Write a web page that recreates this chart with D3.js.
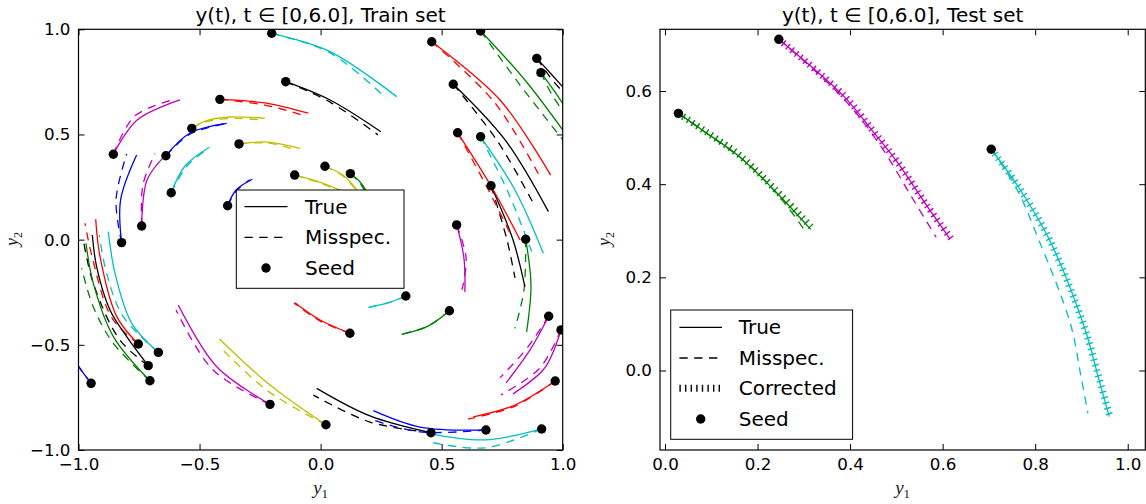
<!DOCTYPE html>
<html><head><meta charset="utf-8">
<script src="https://cdn.jsdelivr.net/npm/d3@7"></script>
<style>body{margin:0;background:#fff} svg{display:block}</style>
</head><body>
<svg id="c" width="1146" height="504"></svg>
<script>
const colorMap = {b:"#0000ff", g:"#008000", r:"#ff0000", c:"#00bfbf", m:"#bf00bf", y:"#bfbf00", k:"#000000"};

// ---------- Train set ----------
const trainColors = ["c","k","r","y","y","m","b","c","b","m","b","r","c","k","g","b","m","y","r","c","g","k","b","c","r","m","m","g","k","m","r","c","k","r","g","k","g","y","y","g"];
const trainSeeds = [[-0.202,0.981],[-0.144,0.751],[-0.416,0.667],[-0.532,0.529],[-0.337,0.455],[-0.856,0.406],[-0.639,0.399],[-0.617,0.223],[-0.384,0.161],[-0.739,0.065],[-0.822,-0.014],[-0.753,-0.496],[-0.670,-0.536],[-0.712,-0.599],[-0.705,-0.671],[-0.948,-0.683],[-0.209,-0.783],[0.022,-0.880],[0.121,-0.445],[0.352,-0.268],[0.532,-0.338],[0.456,-0.918],[0.683,-0.905],[0.913,-0.900],[0.969,-0.672],[0.942,-0.364],[0.993,-0.429],[0.847,0.002],[0.704,0.256],[0.562,0.070],[0.566,0.508],[0.661,0.489],[0.548,0.739],[0.459,0.941],[0.661,0.992],[0.893,0.862],[0.910,0.794],[-0.107,0.307],[0.018,0.349],[0.123,0.314]];
const trainTrue = [
 [[0.039,0.894],[0.314,0.680]],
 [[0.039,0.664],[0.249,0.513]],
 [[-0.230,0.650],[-0.051,0.601]],
 [[-0.477,0.564],[-0.374,0.583],[-0.230,0.577]],
 [[-0.217,0.464],[-0.085,0.434]],
 [[-0.758,0.569],[-0.581,0.664]],
 [[-0.539,0.507],[-0.388,0.553]],
 [[-0.560,0.350],[-0.460,0.439]],
 [[-0.349,0.236],[-0.282,0.287]],
 [[-0.717,0.284],[-0.640,0.402]],
 [[-0.826,0.189],[-0.760,0.402]],
 [[-0.842,-0.366],[-0.911,-0.081],[-0.929,0.097]],
 [[-0.780,-0.398],[-0.849,-0.160],[-0.877,0.038]],
 [[-0.801,-0.461],[-0.870,-0.334],[-0.925,-0.129],[-0.943,0.022]],
 [[-0.856,-0.461],[-0.939,-0.207],[-0.969,-0.017]],
 [[-0.977,-0.639],[-1.010,-0.586]],
 [[-0.429,-0.604],[-0.588,-0.311]],
 [[-0.209,-0.691],[-0.418,-0.472]],
 [[-0.002,-0.382],[-0.106,-0.300]],
 [[0.278,-0.301],[0.197,-0.322]],
 [[0.444,-0.411],[0.335,-0.450]],
 [[0.204,-0.838],[-0.016,-0.707]],
 [[0.411,-0.891],[0.218,-0.813]],
 [[0.679,-0.952],[0.445,-0.921]],
 [[0.803,-0.786],[0.631,-0.842]],
 [[0.865,-0.524],[0.766,-0.681]],
 [[0.926,-0.610],[0.795,-0.733]],
 [[0.869,-0.216],[0.851,-0.438]],
 [[0.795,-0.002],[0.844,-0.225]],
 [[0.592,-0.087],[0.596,-0.249]],
 [[0.704,0.255],[0.824,-0.002]],
 [[0.803,0.236],[0.920,-0.065]],
 [[0.762,0.474],[0.941,0.133]],
 [[0.741,0.664],[0.950,0.307]],
 [[0.844,0.759],[1.030,0.474]],
 [[0.956,0.783],[1.030,0.688]],
 [[0.968,0.702],[1.030,0.593]],
 [[-0.003,0.274],[0.101,0.226]],
 [[0.092,0.307],[0.150,0.236]],
 [[0.163,0.274],[0.196,0.217]]
];
const trainMisspec = [
 [[0.039,0.888],[0.270,0.673]],
 [[0.039,0.654],[0.237,0.498]],
 [[-0.230,0.640],[-0.064,0.588]],
 [[-0.477,0.559],[-0.374,0.576],[-0.242,0.569]],
 [[-0.217,0.459],[-0.098,0.426]],
 [[-0.767,0.588],[-0.597,0.669]],
 [[-0.539,0.502],[-0.399,0.550]],
 [[-0.552,0.350],[-0.461,0.436]],
 [[-0.349,0.231],[-0.292,0.284]],
 [[-0.734,0.260],[-0.684,0.410]],
 [[-0.845,0.189],[-0.801,0.407]],
 [[-0.862,-0.372],[-0.944,-0.081],[-0.973,0.078]],
 [[-0.815,-0.366],[-0.884,-0.160],[-0.914,0.022]],
 [[-0.829,-0.477],[-0.939,-0.207],[-0.980,-0.002]],
 [[-0.856,-0.493],[-0.939,-0.319],[-0.987,-0.136]],
 [[-0.977,-0.639],[-1.010,-0.586]],
 [[-0.444,-0.620],[-0.597,-0.334]],
 [[-0.217,-0.720],[-0.420,-0.506]],
 [[-0.002,-0.387],[-0.110,-0.301]],
 [[0.278,-0.301],[0.197,-0.322]],
 [[0.444,-0.411],[0.335,-0.450]],
 [[0.204,-0.867],[-0.030,-0.739]],
 [[0.411,-0.914],[0.216,-0.857]],
 [[0.679,-0.990],[0.445,-0.961]],
 [[0.803,-0.791],[0.609,-0.853]],
 [[0.853,-0.515],[0.741,-0.657]],
 [[0.906,-0.610],[0.745,-0.738]],
 [[0.840,-0.239],[0.803,-0.422]],
 [[0.770,-0.002],[0.803,-0.182]],
 [[0.601,-0.087],[0.584,-0.239]],
 [[0.687,0.250],[0.782,0.032]],
 [[0.774,0.227],[0.872,-0.057]],
 [[0.733,0.464],[0.886,0.157]],
 [[0.720,0.650],[0.906,0.299]],
 [[0.824,0.735],[1.001,0.474]],
 [[0.948,0.773],[1.022,0.673]],
 [[0.956,0.688],[1.022,0.578]],
 [[-0.003,0.270],[0.095,0.224]],
 [[0.092,0.303],[0.146,0.236]],
 [[0.160,0.272],[0.190,0.217]]
];
const trainXTicks = [-1.0,-0.5,0.0,0.5,1.0];
const trainYTicks = [-1.0,-0.5,0.0,0.5,1.0];

// ---------- Test set ----------
const testColors = ["g","m","c"];
const testSeeds = [[0.029,0.552],[0.246,0.711],[0.705,0.475]];
const testTrue = [
 [[0.085,0.513],[0.161,0.459],[0.236,0.387],[0.315,0.303]],
 [[0.387,0.588],[0.447,0.516],[0.500,0.450],[0.567,0.352],[0.616,0.282]],
 [[0.763,0.395],[0.831,0.280],[0.906,0.094],[0.936,-0.013],[0.960,-0.099]]
];
const testMisspec = [
 [[0.100,0.502],[0.180,0.443],[0.250,0.370],[0.306,0.295]],
 [[0.380,0.590],[0.462,0.488],[0.537,0.366],[0.586,0.286]],
 [[0.760,0.390],[0.808,0.280],[0.876,0.101],[0.899,-0.013],[0.914,-0.092]]
];
const testCorrected = [
 [[0.085,0.515],[0.161,0.462],[0.236,0.391],[0.318,0.306]],
 [[0.387,0.590],[0.447,0.518],[0.500,0.451],[0.567,0.353],[0.620,0.281]],
 [[0.763,0.396],[0.831,0.281],[0.906,0.094],[0.937,-0.013],[0.962,-0.100]]
];
const testXTicks = [0.0,0.2,0.4,0.6,0.8,1.0];
const testYTicks = [0.0,0.2,0.4,0.6];

const svg = d3.select("#c");
const sans = "'DejaVu Sans', sans-serif";
const serif = "'Liberation Serif', 'DejaVu Serif', serif";
const defs = svg.append("defs");

function drawPanel(p){
  const x = d3.scaleLinear().domain(p.xDomain).range([p.left, p.right]);
  const y = d3.scaleLinear().domain(p.yDomain).range([p.bottom, p.top]);
  const g = svg.append("g");
  defs.append("clipPath").attr("id","clip"+p.id).append("rect")
    .attr("x",p.left).attr("y",p.top).attr("width",p.right-p.left).attr("height",p.bottom-p.top);
  const plot = g.append("g").attr("clip-path",`url(#clip${p.id})`);
  const line = d3.line().x(d=>x(d[0])).y(d=>y(d[1])).curve(d3.curveCatmullRom.alpha(0.5));
  p.colors.forEach((c,i)=>{
    const s = p.seeds[i];
    const col = colorMap[c];
    plot.append("path").attr("d", line([s, ...p.trueC[i]]))
      .attr("fill","none").attr("stroke",col).attr("stroke-width",1.3);
    plot.append("path").attr("d", line([s, ...p.missC[i]]))
      .attr("fill","none").attr("stroke",col).attr("stroke-width",1.3).attr("stroke-dasharray","8.3,6.5");
    if (p.corrC) {
      plot.append("path").attr("d", line([s, ...p.corrC[i]]))
        .attr("fill","none").attr("stroke",col).attr("stroke-width",7).attr("stroke-dasharray","1.4,4.2");
    }
  });
  plot.selectAll("circle.seed").data(p.seeds).join("circle").attr("class","seed")
    .attr("cx",d=>x(d[0])).attr("cy",d=>y(d[1])).attr("r",4.7).attr("fill","#000");

  const fmt = d3.format(".1f");
  const styleAxis = sel => {
    sel.select(".domain").remove();
    sel.selectAll(".tick line").attr("stroke","#000").attr("stroke-width",1);
    sel.selectAll(".tick text").attr("fill","#000").attr("font-family",sans).attr("font-size","16.7px");
    sel.attr("font-family",sans).attr("font-size","16.7px");
  };
  g.append("g").attr("transform",`translate(0,${p.bottom})`)
    .call(d3.axisBottom(x).tickValues(p.xTicks).tickFormat(fmt).tickSizeInner(-6).tickSizeOuter(0).tickPadding(8)).call(styleAxis);
  g.append("g").attr("transform",`translate(0,${p.top})`)
    .call(d3.axisTop(x).tickValues(p.xTicks).tickFormat("").tickSizeInner(-6).tickSizeOuter(0)).call(styleAxis);
  g.append("g").attr("transform",`translate(${p.left},0)`)
    .call(d3.axisLeft(y).tickValues(p.yTicks).tickFormat(fmt).tickSizeInner(-6).tickSizeOuter(0).tickPadding(8)).call(styleAxis);
  g.append("g").attr("transform",`translate(${p.right},0)`)
    .call(d3.axisRight(y).tickValues(p.yTicks).tickFormat("").tickSizeInner(-6).tickSizeOuter(0)).call(styleAxis);
  g.append("rect").attr("x",p.left).attr("y",p.top).attr("width",p.right-p.left).attr("height",p.bottom-p.top)
    .attr("fill","none").attr("stroke","#000").attr("stroke-width",1.2);

  // title
  g.append("text").attr("x",(p.left+p.right)/2).attr("y",22).attr("text-anchor","middle")
    .attr("font-family",sans).attr("font-size","20px").attr("fill","#000").text(p.title);
  // axis labels
  const xl = g.append("text").attr("x",(p.left+p.right)/2).attr("y",494).attr("text-anchor","middle")
    .attr("font-family",serif).attr("font-style","italic").attr("font-size","19px").attr("fill","#222");
  xl.append("tspan").text("y");
  xl.append("tspan").attr("font-size","13px").attr("font-style","normal").attr("dy",4).text("1");
  const yl = g.append("text").attr("transform",`translate(${p.ylabelX},239) rotate(-90)`).attr("text-anchor","middle")
    .attr("font-family",serif).attr("font-style","italic").attr("font-size","18px").attr("fill","#222");
  yl.append("tspan").text("y");
  yl.append("tspan").attr("font-size","12px").attr("font-style","normal").attr("dy",4).text("2");

  // legend
  const L = p.legend;
  const lg = g.append("g");
  lg.append("rect").attr("x",L.x0).attr("y",L.y0).attr("width",L.x1-L.x0).attr("height",L.y1-L.y0)
    .attr("fill","#fff").attr("stroke","#000").attr("stroke-width",1);
  L.items.forEach((it,i)=>{
    const yy = L.rows[i];
    if (it.kind==="seed") {
      lg.append("circle").attr("cx",(L.lx0+L.lx1)/2).attr("cy",yy).attr("r",4.7).attr("fill","#000");
    } else {
      const ln = lg.append("line").attr("x1",L.lx0).attr("x2",L.lx1).attr("y1",yy).attr("y2",yy).attr("stroke","#000");
      if (it.kind==="true") ln.attr("stroke-width",1.3);
      if (it.kind==="miss") ln.attr("stroke-width",1.3).attr("stroke-dasharray","8.3,6.5");
      if (it.kind==="corr") ln.attr("stroke-width",7).attr("stroke-dasharray","1.4,4.2");
    }
    lg.append("text").attr("x",L.tx).attr("y",yy+7).attr("font-family",sans).attr("font-size","20px")
      .attr("fill","#000").text(it.label);
  });
}

drawPanel({
  id:"train", left:78.5, right:562.7, top:29.3, bottom:450,
  xDomain:[-1,1], yDomain:[-1,1], xTicks:trainXTicks, yTicks:trainYTicks,
  colors:trainColors, seeds:trainSeeds, trueC:trainTrue, missC:trainMisspec,
  title:"y(t), t ∈ [0,6.0], Train set", ylabelX:18,
  legend:{x0:236.3,x1:404,y0:190,y1:288.3,lx0:244.5,lx1:287.5,tx:305,rows:[206.7,237.3,268],
    items:[{kind:"true",label:"True"},{kind:"miss",label:"Misspec."},{kind:"seed",label:"Seed"}]}
});
drawPanel({
  id:"test", left:660, right:1145.3, top:29.3, bottom:450,
  xDomain:[-0.0108,1.038], yDomain:[-0.1707,0.7325], xTicks:testXTicks, yTicks:testYTicks,
  colors:testColors, seeds:testSeeds, trueC:testTrue, missC:testMisspec, corrC:testCorrected,
  title:"y(t), t ∈ [0,6.0], Test set", ylabelX:610,
  legend:{x0:670.7,x1:852.6,y0:310,y1:439.3,lx0:679.4,lx1:722,tx:738.7,rows:[327.3,358,388.3,419],
    items:[{kind:"true",label:"True"},{kind:"miss",label:"Misspec."},{kind:"corr",label:"Corrected"},{kind:"seed",label:"Seed"}]}
});
</script>
</body></html>
